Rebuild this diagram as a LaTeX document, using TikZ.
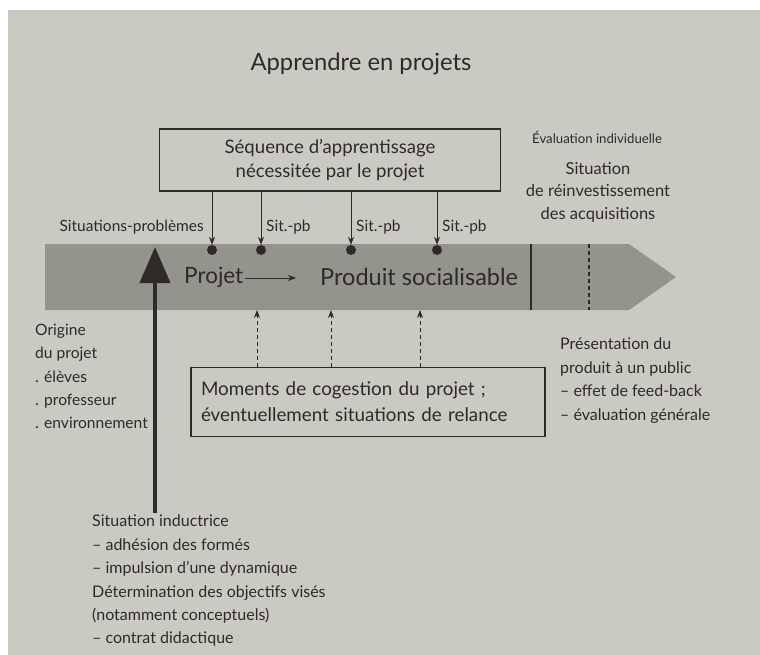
\documentclass[tikz,border=0pt]{standalone}
\usepackage{fontspec}
\setmainfont{Lato}
\usetikzlibrary{arrows.meta}
\definecolor{paper}{RGB}{202,202,197}
\definecolor{bandc}{RGB}{148,148,142}
\definecolor{ink}{RGB}{45,42,42}
\begin{document}
\begin{tikzpicture}[x=1pt,y=-1pt,
  every node/.style={text=ink, inner sep=0pt},
  box/.style={draw=ink, line width=1.2pt, align=center, font=\fontsize{18.6}{24}\selectfont},
  lbl/.style={font=\fontsize{15.5}{18}\selectfont},
  txt/.style={font=\fontsize{16}{23.4}\selectfont, align=left, anchor=north west},
  dotn/.style={circle, fill=ink, minimum size=10pt},
  tip/.style={draw=ink, line width=0.8pt, -{Stealth[length=8pt,width=6pt]}},
  dtip/.style={draw=ink, line width=0.8pt, dashed, dash pattern=on 4pt off 3pt, -{Stealth[length=8pt,width=6pt]}}
]
\useasboundingbox (0,0) rectangle (760,655);
\fill[white] (0,0) rectangle (760,655);
\fill[paper] (8,10) rectangle (760,655);

% title
\node[font=\fontsize{23.8}{28}\selectfont] (title) at (361,64) {Apprendre en projets};

% band
\fill[bandc] (45,244) -- (629,244) -- (676,277) -- (629,310) -- (45,310) -- cycle;
\coordinate (bandN) at (0,244);
\coordinate (bandS) at (0,310);
\draw[ink, line width=1.6pt] (531,244) -- (531,310);
\draw[ink, line width=1.6pt, dash pattern=on 4pt off 3pt] (589,244) -- (589,310);

% top box
\node[box, minimum width=341pt, minimum height=62pt] (seq) at (330,160)
  {Séquence d'apprentissage\\nécessitée par le projet};

\node[dotn] (d1) at (212,250) {};
\node[dotn] (d2) at (261,250) {};
\node[dotn] (d3) at (351,250) {};
\node[dotn] (d4) at (437,250) {};
\foreach \d in {d1,d2,d3,d4} \draw[tip] (\d |- seq.south) -- (\d.north);

\node[lbl, anchor=east] (sp) at (204,227) {Situations-problèmes};
\node[lbl, anchor=west] (s2) at (266,227) {Sit.-pb};
\node[lbl, anchor=west] (s3) at (356,227) {Sit.-pb};
\node[lbl, anchor=west] (s4) at (442,227) {Sit.-pb};

% inside band
\node[font=\fontsize{22.5}{26}\selectfont, anchor=west] (proj) at (184,277) {Projet};
\node[font=\fontsize{23.5}{26}\selectfont, anchor=west] (prod) at (320,277) {Produit socialisable};
\draw[tip] ([xshift=2pt,yshift=-1pt]proj.east) -- ([xshift=-24pt,yshift=-1pt]prod.west);

% big arrow
\coordinate (orig) at (155,513);
\coordinate (origtop) at (155,247);
\draw[ink, line width=4pt, -{Triangle[length=36pt,width=30pt]}] (orig) -- (origtop);

% right texts
\node[font=\fontsize{13.2}{16}\selectfont, anchor=west] (eval) at (532,137) {Évaluation individuelle};
\node[font=\fontsize{16.5}{22.5}\selectfont, align=center, anchor=north] (reinv) at (598,162)
  {Situation\\de réinvestissement\\des acquisitions};

% bottom box
\node[box, font=\fontsize{18.8}{26}\selectfont, minimum width=354pt, minimum height=69pt, align=left, text width=334pt] (mom) at (368,402)
  {Moments de cogestion du projet ;\\éventuellement situations de relance};
\coordinate (m1) at (257,0);
\coordinate (m2) at (331,0);
\coordinate (m3) at (420,0);
\foreach \m in {m1,m2,m3} \draw[dtip] (\m |- mom.north) -- (\m |- bandS);

% left text
\node[txt, font=\fontsize{15.6}{23.3}\selectfont] (origine) at (35,324) {Origine\\du projet\\. élèves\\. professeur\\. environnement};

% right lower text
\node[txt] (pres) at (560,338) {Présentation du\\produit à un public\\– effet de feed-back\\– évaluation générale};

% bottom text
\node[txt] (induc) at (92,515) {Situation inductrice\\– adhésion des formés\\– impulsion d'une dynamique\\Détermination des objectifs visés\\(notamment conceptuels)\\– contrat didactique};
\end{tikzpicture}
\end{document}
